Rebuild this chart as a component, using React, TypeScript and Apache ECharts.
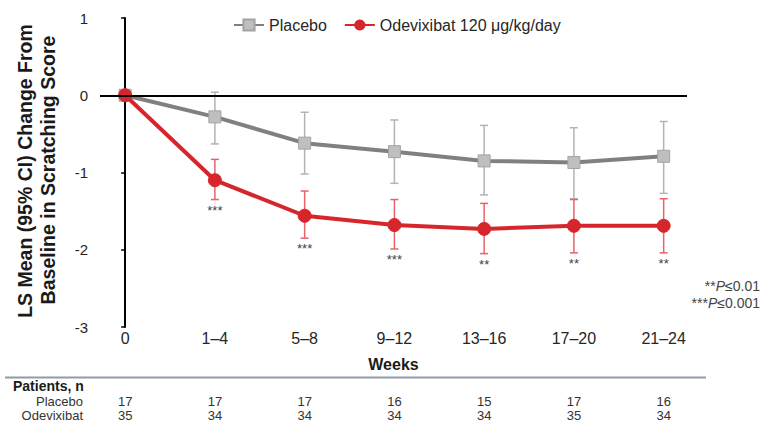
import React, { useEffect, useRef } from "react";
import * as echarts from "echarts";

const weeks = ["0", "1–4", "5–8", "9–12", "13–16", "17–20", "21–24"];
const placeboMean = [0, -0.28, -0.62, -0.73, -0.85, -0.87, -0.79];
const placeboLow = [null, -0.63, -1.02, -1.14, -1.29, -1.34, -1.27];
const placeboHigh = [null, 0.04, -0.22, -0.32, -0.39, -0.42, -0.34];
const odevMean = [0, -1.1, -1.56, -1.68, -1.73, -1.69, -1.69];
const odevLow = [null, -1.35, -1.85, -1.99, -2.05, -2.04, -2.04];
const odevHigh = [null, -0.83, -1.24, -1.35, -1.4, -1.35, -1.34];
const stars = ["", "***", "***", "***", "**", "**", "**"];
const placeboN = [17, 17, 17, 16, 15, 17, 16];
const odevN = [35, 34, 34, 34, 34, 35, 34];
const yTicks = [-3, -2, -1, 0, 1];

const FONT = "Arial, 'Liberation Sans', Helvetica, sans-serif";
const idx = weeks.map((_, i) => i);

function ciData(lo: (number | null)[], hi: (number | null)[]) {
  const out: number[][] = [];
  lo.forEach((l, i) => {
    if (l !== null && hi[i] !== null) out.push([i, l as number, hi[i] as number]);
  });
  return out;
}

function errorSeries(name: string, data: number[][], color: string, withStars: boolean) {
  return {
    type: "custom",
    name,
    z: 1,
    encode: { x: 0, y: [1, 2] },
    data,
    renderItem: (params: any, api: any) => {
      const x = api.value(0);
      const lo = api.coord([x, api.value(1)]);
      const hi = api.coord([x, api.value(2)]);
      const cap = 4;
      const style = { stroke: color, lineWidth: 1.5 };
      const children: any[] = [
        { type: "line", shape: { x1: hi[0], y1: hi[1], x2: lo[0], y2: lo[1] }, style },
        { type: "line", shape: { x1: hi[0] - cap, y1: hi[1], x2: hi[0] + cap, y2: hi[1] }, style },
        { type: "line", shape: { x1: lo[0] - cap, y1: lo[1], x2: lo[0] + cap, y2: lo[1] }, style },
      ];
      if (withStars) {
        children.push({
          type: "text",
          style: {
            text: stars[Math.round(x)],
            x: lo[0],
            y: lo[1] + 4,
            align: "center",
            verticalAlign: "top",
            fill: "#3b3f4c",
            font: `13px ${FONT}`,
          },
        });
      }
      return { type: "group", children };
    },
  };
}

export default function App() {
  const ref = useRef<HTMLDivElement>(null);

  useEffect(() => {
    document.body.style.margin = "0";
    const chart = echarts.init(ref.current!, null, { renderer: "svg" });
    const xBase = {
      type: "value",
      min: -0.28,
      max: 6.26,
      gridIndex: 0,
      position: "bottom",
      axisLine: { show: false },
      axisTick: { show: false },
      splitLine: { show: false },
    };
    const rowLabel = (arr: number[]) => ({
      customValues: idx,
      formatter: (v: number) => String(arr[Math.round(v)] ?? ""),
      fontSize: 13,
      lineHeight: 13,
      color: "#333",
      margin: 0,
      fontFamily: FONT,
    });
    const option: any = {
      animation: false,
      backgroundColor: "#ffffff",
      textStyle: { fontFamily: FONT },
      grid: { left: 100, right: 75, top: 18, bottom: 96, containLabel: false },
      legend: {
        left: 228,
        top: 12,
        itemWidth: 30,
        itemHeight: 14,
        itemGap: 17,
        data: ["Placebo", "Odevixibat 120 μg/kg/day"],
        textStyle: { fontSize: 16, color: "#262626", fontFamily: FONT },
      },
      xAxis: [
        {
          ...xBase,
          name: "Weeks",
          nameLocation: "middle",
          nameGap: 29,
          nameTextStyle: { fontSize: 16, fontWeight: "bold", color: "#1a1a1a", fontFamily: FONT },
          axisLabel: {
            customValues: idx,
            formatter: (v: number) => weeks[Math.round(v)] ?? "",
            fontSize: 16,
            color: "#262626",
            margin: 3,
            fontFamily: FONT,
          },
        },
        { ...xBase, offset: 68, axisLabel: rowLabel(placeboN) },
        { ...xBase, offset: 82, axisLabel: rowLabel(odevN) },
      ],
      yAxis: {
        type: "value",
        min: -3,
        max: 1,
        interval: 1,
        axisLine: { show: true, lineStyle: { color: "#000", width: 2 } },
        axisTick: { show: true, length: 4, lineStyle: { color: "#000", width: 1.5 } },
        splitLine: { show: false },
        axisLabel: {
          customValues: yTicks,
          fontSize: 15,
          color: "#262626",
          margin: 12,
          fontFamily: FONT,
        },
      },
      series: [
        errorSeries("placeboCI", ciData(placeboLow, placeboHigh), "#b3b3b3", false),
        errorSeries("odevCI", ciData(odevLow, odevHigh), "#e8636a", true),
        {
          type: "line",
          name: "Placebo",
          z: 3,
          data: placeboMean.map((v, i) => [i, v]),
          symbol: "rect",
          symbolSize: 12,
          lineStyle: { color: "#808080", width: 4 },
          itemStyle: { color: "#bfbfbf", borderColor: "#a3a3a3", borderWidth: 1 },
          markLine: {
            silent: true,
            symbol: ["none", "none"],
            label: { show: false },
            lineStyle: { color: "#000", width: 2, type: "solid" },
            data: [{ yAxis: 0 }],
          },
        },
        {
          type: "line",
          name: "Odevixibat 120 μg/kg/day",
          z: 4,
          data: odevMean.map((v, i) => [i, v]),
          symbol: "circle",
          symbolSize: 13,
          lineStyle: { color: "#d7262b", width: 4 },
          itemStyle: { color: "#d7262b", borderColor: "#d7262b" },
        },
      ],
      graphic: [
        {
          type: "text",
          rotation: Math.PI / 2,
          x: 25,
          y: 171,
          style: {
            text: "LS Mean (95% CI) Change From",
            font: `bold 19.5px ${FONT}`,
            fill: "#1a1a1a",
            align: "center",
            verticalAlign: "middle",
          },
        },
        {
          type: "text",
          rotation: Math.PI / 2,
          x: 48,
          y: 170,
          style: {
            text: "Baseline in Scratching Score",
            font: `bold 19.5px ${FONT}`,
            fill: "#1a1a1a",
            align: "center",
            verticalAlign: "middle",
          },
        },
        {
          type: "line",
          shape: { x1: 5, y1: 377.5, x2: 706, y2: 377.5 },
          style: { stroke: "#8e9bab", lineWidth: 2 },
        },
        {
          type: "text",
          x: 13,
          y: 386,
          style: { text: "Patients, n", font: `bold 14px ${FONT}`, fill: "#1a1a1a", align: "left", verticalAlign: "middle", lineHeight: 14 },
        },
        {
          type: "text",
          x: 83,
          y: 401.5,
          style: { text: "Placebo", font: `13px ${FONT}`, fill: "#333", align: "right", verticalAlign: "middle", lineHeight: 13 },
        },
        {
          type: "text",
          x: 83,
          y: 415.5,
          style: { text: "Odevixibat", font: `13px ${FONT}`, fill: "#333", align: "right", verticalAlign: "middle", lineHeight: 13 },
        },
        {
          type: "text",
          x: 760,
          y: 286,
          style: {
            text: "{a|**}{i|P}{a|≤0.01}",
            align: "right",
            verticalAlign: "middle",
            rich: {
              a: { font: `14px ${FONT}`, fill: "#444" },
              i: { font: `italic 14px ${FONT}`, fill: "#444" },
            },
          },
        },
        {
          type: "text",
          x: 760,
          y: 303,
          style: {
            text: "{a|***}{i|P}{a|≤0.001}",
            align: "right",
            verticalAlign: "middle",
            rich: {
              a: { font: `14px ${FONT}`, fill: "#444" },
              i: { font: `italic 14px ${FONT}`, fill: "#444" },
            },
          },
        },
      ],
    };
    chart.setOption(option);
    return () => chart.dispose();
  }, []);

  return (
    <div
      ref={ref}
      style={{ position: "absolute", left: 0, top: 0, width: 762, height: 423, background: "#fff" }}
    />
  );
}
